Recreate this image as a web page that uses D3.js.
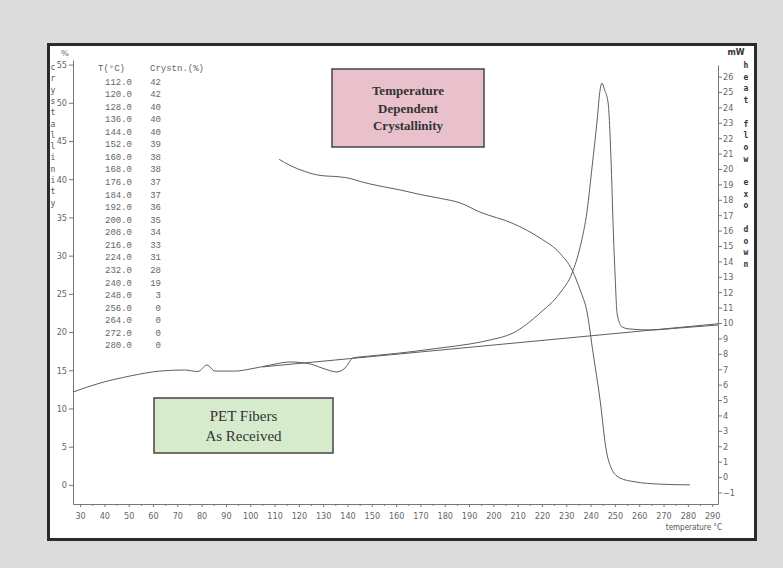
<!DOCTYPE html>
<html>
<head>
<meta charset="utf-8">
<script src="https://cdn.jsdelivr.net/npm/d3@7"></script>
<style>
  body { margin: 0; background: #dcdcdc; }
  svg { display: block; }
</style>
</head>
<body>
<div id="chart"></div>
<script>
const width = 783;
const height = 568;

// crystallinity curve (temperature, %)
const crystTemps = [111.9, 116.4, 122.6, 128.7, 137.0, 141.1, 145.2, 153.4, 161.6, 169.9, 178.1, 186.3, 194.5, 208.1, 219.2, 227.4, 232.4, 235.7, 238.6, 241.0, 243.9, 246.4, 248.8, 252.1, 258.3, 268.6, 280.9];
const crystValues = [42.6, 41.8, 41.0, 40.5, 40.3, 40.1, 39.7, 39.1, 38.6, 38.0, 37.5, 36.9, 35.7, 34.2, 32.3, 30.3, 28.1, 25.5, 22.5, 17.3, 11.1, 4.6, 2.0, 0.9, 0.4, 0.1, 0.0];

// dsc heat flow curve (temperature, mW)
const dscTemps = [27.1, 38.2, 50.6, 62.9, 73.0, 78.5, 82.2, 85.5, 93.8, 99.9, 108.2, 116.4, 124.6, 130.8, 135.7, 139.0, 142.3, 149.3, 161.6, 178.1, 190.4, 198.7, 208.1, 219.2, 227.4, 232.4, 235.7, 238.6, 240.6, 242.7, 243.9, 244.7, 245.6, 247.2, 248.4, 249.3, 250.1, 250.9, 253.0, 256.2, 264.5, 276.8, 292.4];
const dscValues = [5.52, 6.10, 6.56, 6.88, 6.95, 6.85, 7.27, 6.88, 6.88, 7.01, 7.27, 7.47, 7.34, 7.01, 6.82, 7.08, 7.73, 7.86, 8.05, 8.38, 8.64, 8.90, 9.35, 10.65, 11.95, 13.25, 14.94, 17.34, 20.13, 23.18, 25.13, 25.58, 25.2, 24.3, 20.6, 16.2, 13.0, 10.6, 9.74, 9.61, 9.55, 9.68, 9.87];

// straight baseline under the melting peak
const baseTemps = [105.0, 292.4];
const baseValues = [7.15, 9.95];

// table printed in the upper left corner
const tableTemps = ["112.0", "120.0", "128.0", "136.0", "144.0", "152.0", "160.0", "168.0", "176.0", "184.0", "192.0", "200.0", "208.0", "216.0", "224.0", "232.0", "240.0", "248.0", "256.0", "264.0", "272.0", "280.0"];
const tableCryst = ["42", "42", "40", "40", "40", "39", "38", "38", "37", "37", "36", "35", "34", "33", "31", "28", "19", "3", "0", "0", "0", "0"];

const xTicks = d3.range(30, 291, 10);
const leftTicks = d3.range(0, 56, 5);
const rightTicks = d3.range(-1, 27, 1);

const svg = d3
  .select("#chart")
  .append("svg")
  .attr("width", width)
  .attr("height", height);

const tickFont = "'Liberation Sans Narrow', 'DejaVu Sans Condensed', sans-serif";

// outer frame
svg
  .append("rect")
  .attr("x", 48.5)
  .attr("y", 44.5)
  .attr("width", 707)
  .attr("height", 495)
  .attr("fill", "#ffffff")
  .attr("stroke", "#2b2b2b")
  .attr("stroke-width", 3);

const xScale = d3.scaleLinear().domain([27.1, 292.4]).range([73, 718]);
const yLeft = d3.scaleLinear().domain([-2.5, 55.6]).range([504, 60]);
const yRight = d3.scaleLinear().domain([-1.75, 26.75]).range([504, 65]);

// add x-axis
svg
  .append("g")
  .attr("transform", "translate(0,504)")
  .call(d3.axisBottom(xScale).tickValues(xTicks).tickSize(3).tickPadding(6).tickSizeOuter(0));

svg
  .append("g")
  .attr("transform", "translate(0,504)")
  .call(d3.axisBottom(xScale).tickValues(d3.range(35, 291, 10)).tickSize(2).tickFormat("").tickSizeOuter(0))
  .select(".domain")
  .remove();

svg
  .append("text")
  .attr("x", 722)
  .attr("y", 530)
  .attr("fill", "#555")
  .attr("font-size", "8px")
  .attr("font-family", tickFont)
  .style("text-anchor", "end")
  .text("temperature °C");

// add left axis
svg
  .append("g")
  .attr("transform", "translate(73,0)")
  .call(d3.axisLeft(yLeft).tickValues(leftTicks).tickSize(4).tickPadding(2).tickSizeOuter(0));

svg
  .append("text")
  .attr("x", 65)
  .attr("y", 56)
  .attr("fill", "#555")
  .attr("font-size", "9px")
  .style("text-anchor", "middle")
  .text("%");

svg
  .append("g")
  .selectAll("text")
  .data("crystallinity".split(""))
  .enter()
  .append("text")
  .attr("x", 53)
  .attr("y", (d, i) => 70 + i * 11.3)
  .attr("fill", "#555")
  .attr("font-size", "8px")
  .attr("font-family", "'DejaVu Sans Mono', monospace")
  .style("text-anchor", "middle")
  .text((d) => d);

// add right axis
svg
  .append("g")
  .attr("transform", "translate(718,0)")
  .call(d3.axisRight(yRight).tickValues(rightTicks).tickSize(4).tickPadding(1).tickSizeOuter(0));

svg
  .append("text")
  .attr("x", 736)
  .attr("y", 55)
  .attr("fill", "#333")
  .attr("font-size", "8px")
  .attr("font-weight", "bold")
  .attr("font-family", "'DejaVu Sans', sans-serif")
  .style("text-anchor", "middle")
  .text("mW");

svg
  .append("g")
  .selectAll("text")
  .data("heat flow exo down".split(""))
  .enter()
  .append("text")
  .attr("x", 746)
  .attr("y", (d, i) => 68 + i * 11.7)
  .attr("fill", "#333")
  .attr("font-size", "8px")
  .attr("font-weight", "bold")
  .attr("font-family", "'DejaVu Sans Mono', monospace")
  .style("text-anchor", "middle")
  .text((d) => d);

svg
  .selectAll(".domain, .tick line")
  .attr("stroke", "#777");

svg
  .selectAll(".tick text")
  .attr("fill", "#666")
  .attr("font-size", "9px")
  .attr("font-family", tickFont);

// add curves
const line = d3.line().curve(d3.curveMonotoneX);

const crystPoints = crystTemps.map((t, i) => [xScale(t), yLeft(crystValues[i])]);
const dscPoints = dscTemps.map((t, i) => [xScale(t), yRight(dscValues[i])]);
const basePoints = baseTemps.map((t, i) => [xScale(t), yRight(baseValues[i])]);

[basePoints, dscPoints, crystPoints].forEach((pts) => {
  svg
    .append("path")
    .attr("d", line(pts))
    .attr("fill", "none")
    .attr("stroke", "#5e5e5e")
    .attr("stroke-width", 1);
});

// add table
const table = svg.append("g").attr("font-family", "'Liberation Mono', monospace").attr("font-size", "9px").attr("fill", "#666");

table.append("text").attr("x", 98).attr("y", 71).text("T(°C)");
table.append("text").attr("x", 150).attr("y", 71).text("Crystn.(%)");

table
  .selectAll(".temp")
  .data(tableTemps)
  .enter()
  .append("text")
  .attr("class", "temp")
  .attr("x", 132)
  .attr("y", (d, i) => 84.5 + i * 12.57)
  .style("text-anchor", "end")
  .text((d) => d);

table
  .selectAll(".cryst")
  .data(tableCryst)
  .enter()
  .append("text")
  .attr("class", "cryst")
  .attr("x", 161)
  .attr("y", (d, i) => 84.5 + i * 12.57)
  .style("text-anchor", "end")
  .text((d) => d);

// add note boxes
const notes = [
  { x: 332, y: 69, w: 152, h: 78, fill: "#e8c1cc", lines: ["Temperature", "Dependent", "Crystallinity"], bold: true, size: 13 },
  { x: 154, y: 398, w: 179, h: 55, fill: "#d6ebcc", lines: ["PET Fibers", "As Received"], bold: false, size: 15 }
];

notes.forEach((n) => {
  const g = svg.append("g");
  g.append("rect")
    .attr("x", n.x)
    .attr("y", n.y)
    .attr("width", n.w)
    .attr("height", n.h)
    .attr("fill", n.fill)
    .attr("stroke", "#444")
    .attr("stroke-width", 1.5);
  const lh = n.size * 1.35;
  const top = n.y + n.h / 2 - (lh * (n.lines.length - 1)) / 2;
  g.selectAll("text")
    .data(n.lines)
    .enter()
    .append("text")
    .attr("x", n.x + n.w / 2)
    .attr("y", (d, i) => top + i * lh)
    .attr("dy", "0.35em")
    .attr("fill", "#333")
    .attr("font-size", n.size + "px")
    .attr("font-weight", n.bold ? "bold" : "normal")
    .attr("font-family", "'Liberation Serif', serif")
    .style("text-anchor", "middle")
    .text((d) => d);
});
</script>
</body>
</html>
